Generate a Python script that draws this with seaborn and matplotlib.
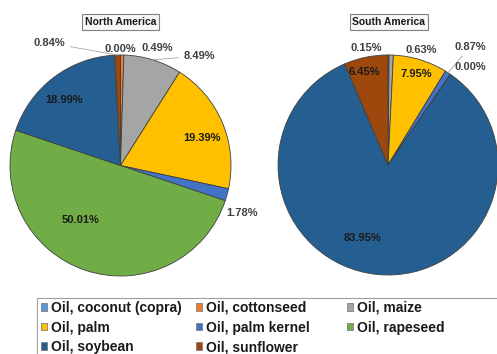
import numpy as np
import matplotlib
matplotlib.use("Agg")
import matplotlib.pyplot as plt
from matplotlib.patches import Rectangle
import seaborn as sns

# share of each oil in vegetable oil production, percent
oils = ["Oil, coconut (copra)", "Oil, cottonseed", "Oil, maize", "Oil, palm",
        "Oil, palm kernel", "Oil, rapeseed", "Oil, soybean", "Oil, sunflower"]
north_america = [0.00, 0.49, 8.49, 19.39, 1.78, 50.01, 18.99, 0.84]
south_america = [0.00, 0.15, 0.63, 7.95, 0.87, 0.00, 83.95, 6.45]
regions = ["North America", "South America"]

# which labels Excel showed (one zero slice in South America had none)
na_show = [True] * 8
sa_show = [False, True, True, True, True, True, True, True]

# label placement (angle in degrees, distance in radii) per slice
na_label_pos = [(90, 1.05), (72.7, 1.11), (54.4, 1.22), (18.6, 0.78),
                (-21.4, 1.18), (233.4, 0.61), (130.8, 0.78), (120, 1.28)]
sa_label_pos = [(0, 0), (100.6, 1.08), (74, 1.09), (72.9, 0.87),
                (55.2, 1.31), (50, 1.16), (250.4, 0.70), (104.5, 0.87)]

oil_colors = ["#5B9BD5", "#ED7D31", "#A5A5A5", "#FFC000",
              "#4472C4", "#70AD47", "#255E91", "#9E480E"]

sns.set_theme(style="white")
plt.rcParams["font.family"] = ["Liberation Sans", "DejaVu Sans"]
palette = sns.color_palette(oil_colors)

W, H = 497, 354
fig = plt.figure(figsize=(W / 100, H / 100), dpi=100)
ax_na = fig.add_axes([0.0201, 0.2203, 0.4447, 0.6243])
ax_sa = fig.add_axes([0.5594, 0.2232, 0.4427, 0.6215])


def draw_pie(ax, values, show, label_pos, title, title_x):
    wedges, _ = ax.pie(values, colors=palette, startangle=90, counterclock=False,
                       radius=1.0,
                       wedgeprops=dict(edgecolor="#404040", linewidth=0.6))
    for w, v, s, (ang, r) in zip(wedges, values, show, label_pos):
        if not s:
            continue
        a = np.deg2rad(ang)
        pos = (r * np.cos(a), r * np.sin(a))
        color = "#1a1a1a" if r < 1 else "#404040"
        txt = f"{v:.2f}%"
        if r > 1.2:
            mid = np.deg2rad((w.theta1 + w.theta2) / 2)
            rim = (np.cos(mid), np.sin(mid))
            ax.annotate(txt, xy=rim, xytext=pos, ha="center", va="center",
                        fontsize=8, fontweight="bold", color=color,
                        arrowprops=dict(arrowstyle="-", color="#A6A6A6", lw=0.6,
                                        shrinkA=1, shrinkB=0))
        else:
            ax.text(pos[0], pos[1], txt, ha="center", va="center",
                    fontsize=8, fontweight="bold", color=color)
    ax.set_xlim(-1, 1)
    ax.set_ylim(-1, 1)
    fig.text(title_x, 1 - 22 / H, title, ha="center", va="center",
             fontsize=7.5, fontweight="bold", color="#1a1a1a",
             bbox=dict(boxstyle="square,pad=0.25", facecolor="#F7F7F7",
                       edgecolor="#808080", linewidth=0.8))
    return wedges


wedges = draw_pie(ax_na, north_america, na_show, na_label_pos, regions[0], 120.5 / W)
draw_pie(ax_sa, south_america, sa_show, sa_label_pos, regions[1], 389 / W)

# Excel legend: fixed-width columns filled row by row
columns = [[0, 3, 6], [1, 4, 7], [2, 5]]
col_x = [41, 196, 347]
for idx, x in zip(columns, col_x):
    leg = fig.legend([wedges[i] for i in idx], [oils[i] for i in idx],
                     loc="upper left", bbox_to_anchor=(x / W, 1 - 301 / H),
                     prop=dict(weight="bold", size=10),
                     handlelength=0.45, handleheight=0.45, handletextpad=0.3,
                     labelspacing=0.4, borderpad=0, borderaxespad=0,
                     frameon=False)
    for t in leg.get_texts():
        t.set_color("#1a1a1a")
    for h in leg.legend_handles:
        h.set_edgecolor("#7F7F7F")
        h.set_linewidth(0.6)

fig.patches.append(Rectangle((37 / W, -0.05), 1.0, (H - 298) / H + 0.05,
                             transform=fig.transFigure, fill=False,
                             edgecolor="#A0A0A0", linewidth=0.8))

fig.savefig("out.png", dpi=100)
